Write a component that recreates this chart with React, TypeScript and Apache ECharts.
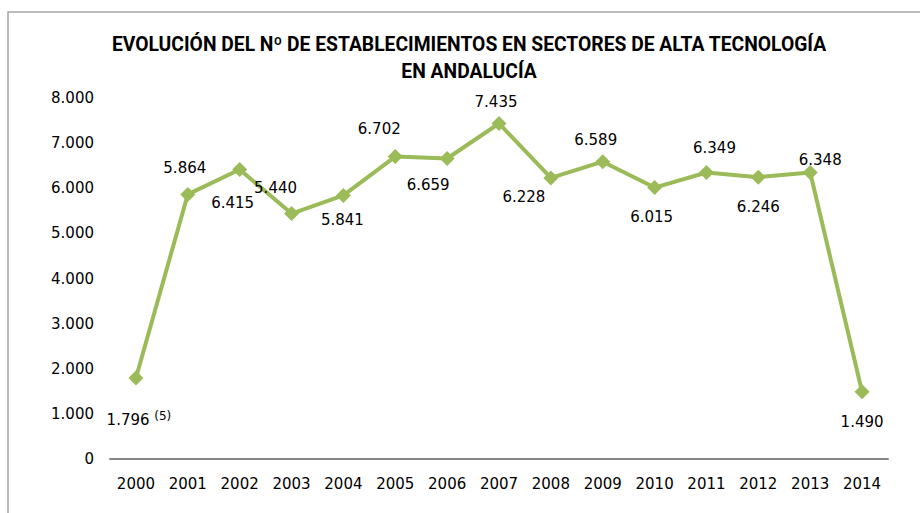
import React, { useEffect, useRef } from "react";
import * as echarts from "echarts";

const years = ["2000","2001","2002","2003","2004","2005","2006","2007","2008","2009","2010","2011","2012","2013","2014"];
const establishments = [1796, 5864, 6415, 5440, 5841, 6702, 6659, 7435, 6228, 6589, 6015, 6349, 6246, 6348, 1490];
const yTicks = [0, 1000, 2000, 3000, 4000, 5000, 6000, 7000, 8000];
const footnotes: Record<string, string> = { "2000": "(5)" };

// label placement relative to the marker centre (layout only)
const labelOffsets: [number, number][] = [
  [3, 42],
  [-3, -26],
  [-7, 33],
  [-16, -26],
  [-1, 25],
  [-16, -28],
  [-19, 26],
  [-3, -21],
  [-27, 19],
  [-7, -22],
  [-3, 29],
  [8, -25],
  [0, 30],
  [10, -13],
  [0, 30],
];

const fmt = (v: number) => {
  const s = Math.round(v).toString();
  return s.length > 3 ? s.slice(0, s.length - 3) + "." + s.slice(-3) : s;
};

export default function App() {
  const ref = useRef<HTMLDivElement>(null);
  useEffect(() => {
    if (!ref.current) return;
    const chart = echarts.init(ref.current, undefined, { renderer: "svg" });
    const font = "DejaVu Sans";
    chart.setOption({
      animation: false,
      backgroundColor: "#ffffff",
      graphic: [
        {
          type: "rect",
          shape: { x: 8, y: 12, width: 930, height: 520 },
          style: { fill: "none", stroke: "#a6a6a6", lineWidth: 1.5 },
          silent: true,
        },
      ],
      title: {
        text: "EVOLUCIÓN DEL Nº DE ESTABLECIMIENTOS EN SECTORES DE ALTA TECNOLOGÍA\nEN ANDALUCÍA",
        left: 469,
        top: 31,
        padding: 0,
        textAlign: "center",
        textStyle: {
          fontFamily: "Roboto",
          fontWeight: "bold",
          fontSize: 19.3,
          lineHeight: 27,
          color: "#000",
        },
      },
      grid: { left: 110, right: 32, top: 98, bottom: 54, containLabel: false },
      xAxis: {
        type: "category",
        data: years,
        boundaryGap: true,
        axisLine: { lineStyle: { color: "#868686", width: 2 } },
        axisTick: { show: false },
        axisLabel: { fontFamily: font, fontSize: 15, color: "#000", margin: 17 },
      },
      yAxis: {
        type: "value",
        min: yTicks[0],
        max: yTicks[yTicks.length - 1],
        interval: 1000,
        axisLine: { show: false },
        axisTick: { show: false },
        splitLine: { show: false },
        axisLabel: {
          fontFamily: font,
          fontSize: 15,
          color: "#000",
          margin: 16,
          formatter: (v: number) => fmt(v),
        },
      },
      series: [
        {
          type: "line",
          data: establishments.map((v, i) => ({
            value: v,
            label: { offset: labelOffsets[i] },
          })),
          symbol: "diamond",
          symbolSize: 15,
          lineStyle: { color: "#9BBB59", width: 4 },
          itemStyle: { color: "#9BBB59" },
          label: {
            show: true,
            position: "inside",
            fontFamily: font,
            fontSize: 15,
            color: "#000",
            formatter: (p: any) => {
              const y = years[p.dataIndex];
              const fn = footnotes[y];
              return fn ? fmt(p.value) + " {sup|" + fn + "}" : fmt(p.value);
            },
            rich: {
              sup: { fontFamily: font, fontSize: 12, color: "#000", padding: [0, 0, 8, 0] },
            },
          },
        },
      ],
    });
    return () => chart.dispose();
  }, []);
  return <div ref={ref} style={{ width: 920, height: 513, position: "absolute", left: 0, top: 0 }} />;
}
